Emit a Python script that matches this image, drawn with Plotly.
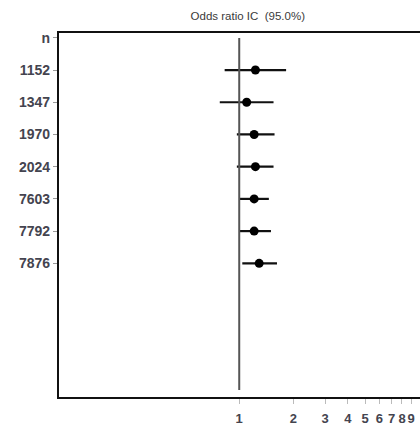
import plotly.graph_objects as go

row_labels = ["n", "1152", "1347", "1970", "2024", "7603", "7792", "7876"]
study_n = ["1152", "1347", "1970", "2024", "7603", "7792", "7876"]
odds_ratio = [1.23, 1.10, 1.21, 1.23, 1.21, 1.21, 1.29]
ci_low = [0.83, 0.78, 0.97, 0.97, 1.01, 1.01, 1.04]
ci_high = [1.82, 1.55, 1.57, 1.55, 1.46, 1.50, 1.62]
x_tick_vals = [1, 2, 3, 4, 5, 6, 7, 8, 9]
x_tick_text = ["1", "2", "3", "4", "5", "6", "7", "8", "9"]

fig = go.Figure()
fig.add_trace(go.Scatter(
    x=odds_ratio, y=study_n, mode="markers",
    marker=dict(color="black", size=9),
    error_x=dict(type="data", symmetric=False,
                 array=[h - o for h, o in zip(ci_high, odds_ratio)],
                 arrayminus=[o - l for o, l in zip(odds_ratio, ci_low)],
                 width=0, thickness=2.2, color="#111111"),
    showlegend=False, cliponaxis=False,
))
fig.add_shape(type="line", xref="x", yref="paper", x0=1, x1=1, y0=0.019, y1=0.986,
              line=dict(color="#555555", width=2))

fig.update_layout(
    width=420, height=426,
    margin=dict(l=59, r=0, t=33, b=29),
    paper_bgcolor="white", plot_bgcolor="white",
    font=dict(family="Liberation Sans, Arial, sans-serif", color="#333333"),
    title=dict(text="Odds ratio IC  (95.0%)", x=0.59, xanchor="center", y=0.962, yanchor="middle",
               font=dict(size=11.5, color="#3a3a3a")),
)
fig.update_xaxes(type="log", range=[-1, 1.003], tickvals=x_tick_vals, ticktext=x_tick_text,
                 tickangle=0, ticklabelstandoff=3,
                 showgrid=False, zeroline=False, showline=True, linecolor="#111111", linewidth=2.2,
                 mirror=True, ticks="outside", ticklen=5, tickcolor="#bbbbbb", tickwidth=1,
                 tickfont=dict(size=13, color="#44444f", weight="bold"))
fig.update_yaxes(type="category", categoryarray=row_labels, range=[11.15, -0.15],
                 showgrid=False, zeroline=False, showline=True, linecolor="#111111", linewidth=2.2,
                 ticks="outside", ticklen=4, tickcolor="#999999", tickwidth=1,
                 tickfont=dict(size=14, color="#44444f", weight="bold"))
fig.write_html("out.html", config={"displayModeBar": False},
               post_script="document.body.style.margin='0';document.body.style.overflow='hidden';")
